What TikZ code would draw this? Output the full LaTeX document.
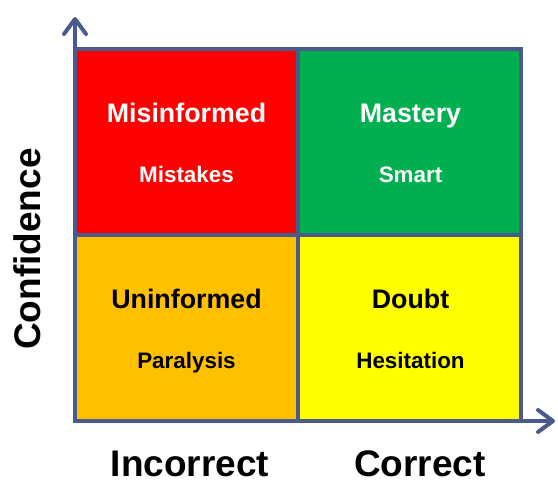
\documentclass[tikz,border=0pt]{standalone}
\usepackage{fontspec}
\setmainfont{Liberation Sans}
\usetikzlibrary{arrows.meta}
\definecolor{axisblue}{RGB}{74,90,140}
\definecolor{qred}{RGB}{255,0,0}
\definecolor{qgreen}{RGB}{0,176,80}
\definecolor{qorange}{RGB}{255,192,0}
\definecolor{qyellow}{RGB}{255,255,0}
\begin{document}
\begin{tikzpicture}[x=1pt,y=-1pt,
  quad/.style={draw=axisblue,line width=4pt,minimum width=223pt,minimum height=186pt,inner sep=0pt,outer sep=0pt},
  title/.style={font=\fontsize{26.8}{30}\selectfont\bfseries,anchor=base},
  sub/.style={font=\fontsize{22.4}{26}\selectfont\bfseries,anchor=base},
  axlabel/.style={font=\fontsize{37}{42}\selectfont\bfseries,inner sep=0pt,text depth=0pt,anchor=base},
  axis/.style={draw=axisblue,line width=4pt,line cap=round,
    -{Straight Barb[length=15pt,width=22pt,line cap=round,line join=round]}}]
\useasboundingbox (0,0) rectangle (558,483);
% quadrants
\node[quad,fill=qred]    (mis) at (186.5,142) {};
\node[quad,fill=qgreen]  (mas) at (409.5,142) {};
\node[quad,fill=qorange] (uni) at (186.5,328) {};
\node[quad,fill=qyellow] (dou) at (409.5,328) {};
% axes
\coordinate (origin) at (75,421);
\coordinate (ytip) at (75,17);
\coordinate (xtip) at (555,421);
\draw[axis] (origin) -- (ytip);
\draw[axis] (origin) -- (xtip);
% quadrant texts
\node[title,white] (t1) at (186.5,122) {Misinformed};
\node[sub,white]   (s1) at (186.5,182) {Mistakes};
\node[title,white] (t2) at (410.5,122) {Mastery};
\node[sub,white]   (s2) at (410.5,182) {Smart};
\node[title] (t3) at (186.5,308) {Uninformed};
\node[sub]   (s3) at (186.5,368) {Paralysis};
\node[title] (t4) at (410.5,308) {Doubt};
\node[sub]   (s4) at (410.5,368) {Hesitation};
% axis labels
\node[axlabel,rotate=90] (conf) at (41,249) {Confidence};
\node[axlabel] (inc) at (190,476) {Incorrect};
\node[axlabel] (cor) at (420,476) {Correct};
\end{tikzpicture}
\end{document}
